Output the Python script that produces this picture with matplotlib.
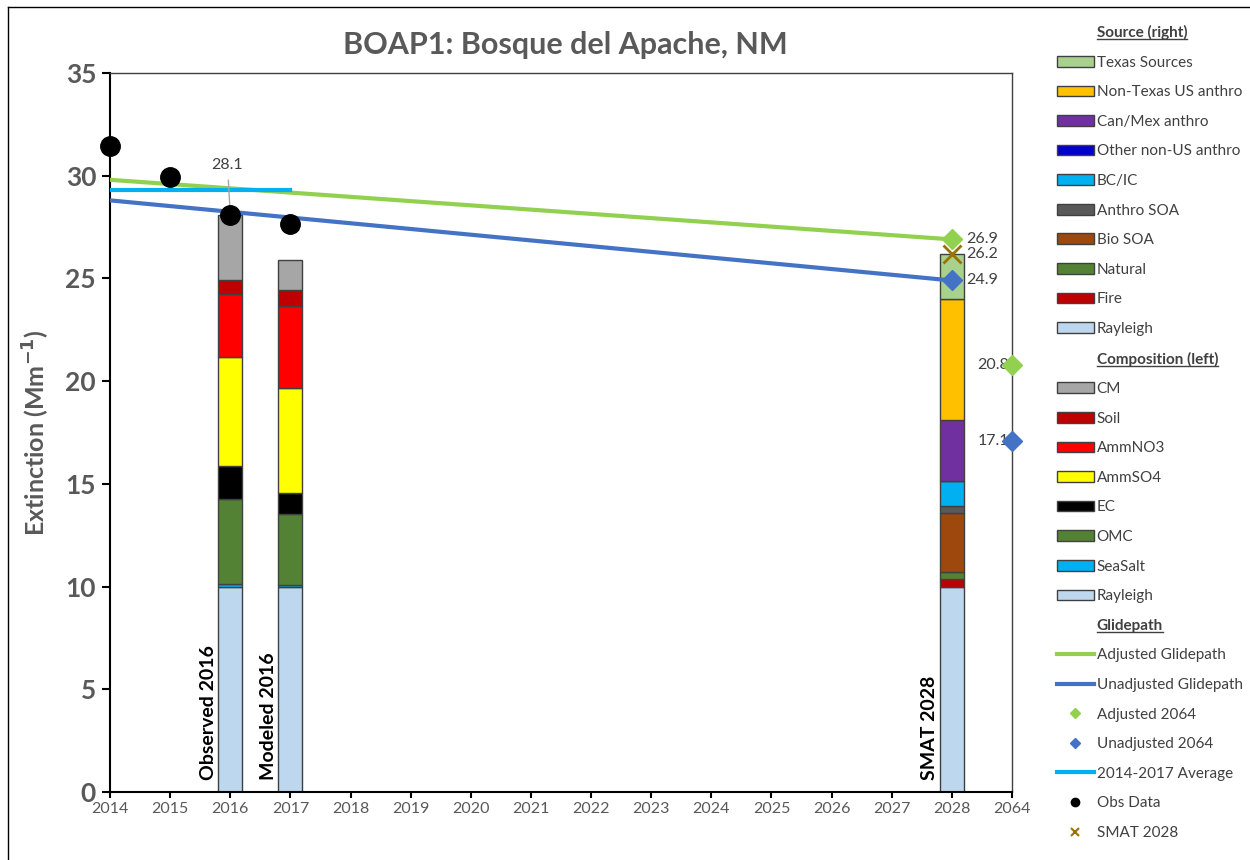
import numpy as np
import matplotlib
matplotlib.use("Agg")
import matplotlib.pyplot as plt
from matplotlib.patches import Patch
from matplotlib.lines import Line2D

plt.rcParams['font.family'] = ['Lato', 'DejaVu Sans']

# category axis
years = ['2014', '2015', '2016', '2017', '2018', '2019', '2020', '2021',
         '2022', '2023', '2024', '2025', '2026', '2027', '2028', '2064']

# composition (left) stacks, bottom to top
comp_names = ['Rayleigh', 'SeaSalt', 'OMC', 'EC', 'AmmSO4', 'AmmNO3', 'Soil', 'CM']
comp_colors = ['#BDD7EE', '#00B0F0', '#548235', '#000000', '#FFFF00', '#FF0000', '#C00000', '#A6A6A6']
obs_2016 = [10.0, 0.12, 4.16, 1.58, 5.31, 3.07, 0.70, 3.15]
mod_2016 = [10.0, 0.07, 3.44, 1.03, 5.12, 3.98, 0.78, 1.49]

# source (right) stack for SMAT 2028, bottom to top
src_names = ['Rayleigh', 'Fire', 'Natural', 'Bio SOA', 'Anthro SOA', 'BC/IC',
             'Other non-US anthro', 'Can/Mex anthro', 'Non-Texas US anthro', 'Texas Sources']
src_colors = ['#BDD7EE', '#C00000', '#548235', '#9E480E', '#595959', '#00B0F0',
              '#0000CC', '#7030A0', '#FFC000', '#A9D18E']
smat_2028 = [10.0, 0.38, 0.35, 2.85, 0.32, 1.22, 0.0, 2.98, 5.90, 2.20]

# glidepath and observations
obs_years = ['2014', '2015', '2016', '2017']
obs_vals = [31.45, 29.95, 28.1, 27.65]
avg_years = ['2014', '2017']
avg_vals = [29.3, 29.3]
glide_years = ['2014', '2028']
adj_glide = [29.8, 26.9]
unadj_glide = [28.8, 24.9]
smat_total = 26.2
adj_2064 = 20.8
unadj_2064 = 17.1

pos = {y: i for i, y in enumerate(years)}

fig = plt.figure(figsize=(12.5, 8.6), dpi=100)
ax = fig.add_axes([110 / 1250, 68 / 860, 902 / 1250, 719 / 860])

green = '#92D050'
blue = '#4472C4'
cyan = '#00B0F0'
grey_txt = '#595959'
w = 0.4

def stack(x, vals, colors):
    bottom = 0
    for v, c in zip(vals, colors):
        ax.bar(x, v, w, bottom=bottom, color=c, edgecolor='#404040', linewidth=1, zorder=2)
        bottom += v

stack(pos['2016'], obs_2016, comp_colors)
stack(pos['2017'], mod_2016, comp_colors)
stack(pos['2028'], smat_2028, src_colors)

for key, lab in [('2016', 'Observed 2016'), ('2017', 'Modeled 2016'), ('2028', 'SMAT 2028')]:
    ax.text(pos[key] - 0.37, 0.6, lab, rotation=90, ha='center', va='bottom',
            fontsize=14, fontweight='bold', color='black', zorder=5)

gx = [pos[y] for y in glide_years]
ax.plot(gx, adj_glide, color=green, lw=3, zorder=3)
ax.plot(gx, unadj_glide, color=blue, lw=3, zorder=3)
ax.plot(gx[-1], adj_glide[-1], 'D', color=green, ms=10, zorder=4)
ax.plot(gx[-1], unadj_glide[-1], 'D', color=blue, ms=10, zorder=4)
ax.plot([pos[y] for y in avg_years], avg_vals, color=cyan, lw=3, zorder=3)
ax.plot([pos[y] for y in obs_years], obs_vals, 'o', color='black', ms=14, zorder=4, clip_on=False)
ax.plot(pos['2028'], smat_total, 'x', color='#997300', ms=13, mew=2, zorder=4)
ax.plot(pos['2064'], adj_2064, 'D', color=green, ms=10, zorder=6, clip_on=False)
ax.plot(pos['2064'], unadj_2064, 'D', color=blue, ms=10, zorder=6, clip_on=False)

# value labels
lab_kw = dict(fontsize=11.5, color='#404040', va='center', textcoords='offset points')
ax.annotate(f'{adj_glide[-1]:.1f}', (gx[-1], adj_glide[-1]), xytext=(10, 0), ha='left', **lab_kw)
ax.annotate(f'{smat_total:.1f}', (gx[-1], smat_total), xytext=(10, 0), ha='left', **lab_kw)
ax.annotate(f'{unadj_glide[-1]:.1f}', (gx[-1], unadj_glide[-1]), xytext=(10, 0), ha='left', **lab_kw)
ax.annotate(f'{adj_2064:.1f}', (pos['2064'], adj_2064), xytext=(-2, 0), ha='right', zorder=5, **lab_kw)
ax.annotate(f'{unadj_2064:.1f}', (pos['2064'], unadj_2064), xytext=(-2, 0), ha='right', zorder=5, **lab_kw)
ax.annotate(f'{obs_vals[2]:.1f}', (pos['2016'], obs_vals[2]), xytext=(-2, 36),
            textcoords='offset points', ha='center', va='center', fontsize=11.5, color='#404040',
            arrowprops=dict(arrowstyle='-', color='#A6A6A6', lw=1, shrinkA=4, shrinkB=4))

ax.set_xlim(0, len(years) - 1)
ax.set_ylim(0, 35)
ax.set_xticks(range(len(years)))
ax.set_xticklabels(years)
ax.set_yticks(range(0, 36, 5))
ax.tick_params(axis='y', labelsize=19, labelcolor=grey_txt, length=6, width=1.5, pad=4)
ax.tick_params(axis='x', labelsize=11.5, labelcolor=grey_txt, length=4, width=1.5, pad=3)
for t in ax.get_yticklabels():
    t.set_fontweight('bold')
for s in ['left', 'bottom']:
    ax.spines[s].set_linewidth(1.5)
    ax.spines[s].set_color('black')
for s in ['top', 'right']:
    ax.spines[s].set_linewidth(1)
    ax.spines[s].set_color('#404040')

ax.set_ylabel('Extinction (Mm$^{\\mathbf{-1}}$)', fontsize=18, fontweight='bold', color=grey_txt, labelpad=10)
fig.text(565 / 1250, 1 - 45 / 860, 'BOAP1: Bosque del Apache, NM', ha='center', va='center',
         fontsize=22, fontweight='bold', color=grey_txt)

# outer chart border (left and top)
fig.add_artist(Line2D([8 / 1250, 8 / 1250], [0, 1 - 7 / 860], color='black', lw=1))
fig.add_artist(Line2D([8 / 1250, 1], [1 - 7 / 860, 1 - 7 / 860], color='black', lw=1))

# legend
blank = Line2D([], [], linestyle='none')
handles, labels, headers = [], [], []
headers.append(len(handles)); handles.append(blank); labels.append('Source (right)')
for n, c in zip(src_names[::-1], src_colors[::-1]):
    handles.append(Patch(facecolor=c, edgecolor='#404040', linewidth=1)); labels.append(n)
headers.append(len(handles)); handles.append(blank); labels.append('Composition (left)')
for n, c in zip(comp_names[::-1], comp_colors[::-1]):
    handles.append(Patch(facecolor=c, edgecolor='#404040', linewidth=1)); labels.append(n)
headers.append(len(handles)); handles.append(blank); labels.append('Glidepath')
handles += [Line2D([], [], color=green, lw=3),
            Line2D([], [], color=blue, lw=3),
            Line2D([], [], marker='D', color=green, ls='none', ms=5),
            Line2D([], [], marker='D', color=blue, ls='none', ms=5),
            Line2D([], [], color=cyan, lw=3),
            Line2D([], [], marker='o', color='black', ls='none', ms=6),
            Line2D([], [], marker='x', color='#997300', ls='none', ms=6, mew=1.5)]
labels += ['Adjusted Glidepath', 'Unadjusted Glidepath', 'Adjusted 2064', 'Unadjusted 2064',
           '2014-2017 Average', 'Obs Data', 'SMAT 2028']

leg = fig.legend(handles, labels, loc='upper left', bbox_to_anchor=(1057 / 1250, 1 - 25 / 860),
                 frameon=False, fontsize=11, handlelength=2.4, handleheight=0.7,
                 handletextpad=0.2, labelspacing=1.02, borderpad=0, borderaxespad=0)
for i, t in enumerate(leg.get_texts()):
    t.set_color('#404040')
    if i in headers:
        t.set_fontweight('bold')

fig.canvas.draw()
r = fig.canvas.get_renderer()
inv = fig.transFigure.inverted()
for i in headers:
    bb = leg.get_texts()[i].get_window_extent(r)
    (x0, y0), (x1, _) = inv.transform([(bb.x0, bb.y0 + 1), (bb.x1, bb.y0 + 1)])
    fig.add_artist(Line2D([x0, x1], [y0, y0], color='#404040', lw=1))

fig.savefig('out.png', dpi=100)
